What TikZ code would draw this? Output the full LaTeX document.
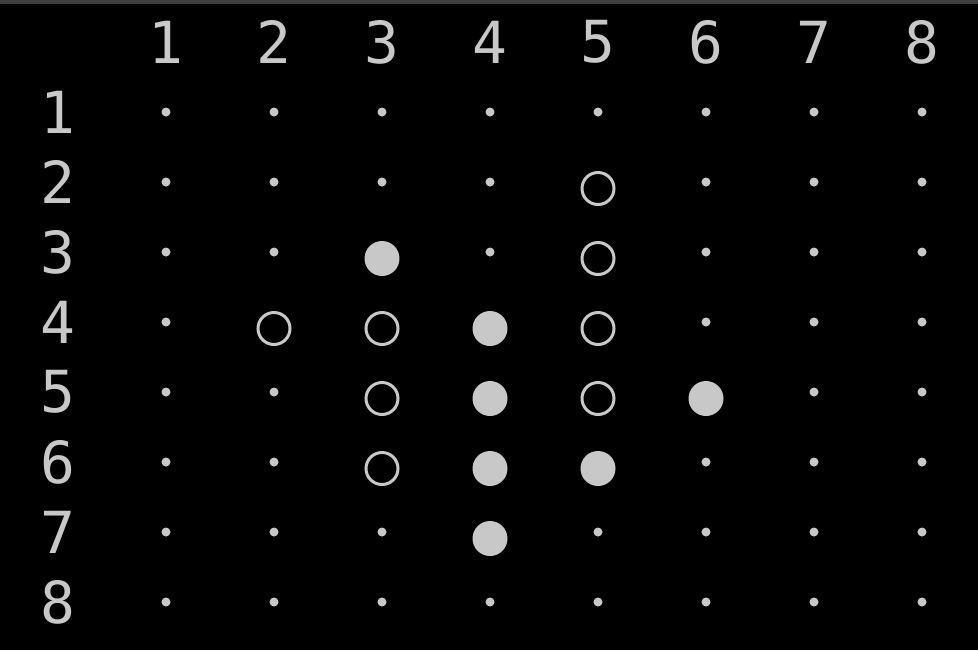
\documentclass[tikz,border=0pt]{standalone}
\usepackage{fontspec}
\setmainfont{DejaVu Sans Mono}
\usepackage{tikz}
\usepackage{xcolor}

\definecolor{term}{HTML}{C8C8C8}
\definecolor{titlebar}{HTML}{3F3F3F}

% board cells that are not plain points
\tikzset{
  c2-5/.style={hole},
  c3-3/.style={stone}, c3-5/.style={hole},
  c4-2/.style={hole}, c4-3/.style={hole}, c4-4/.style={stone}, c4-5/.style={hole},
  c5-3/.style={hole}, c5-4/.style={stone}, c5-5/.style={hole}, c5-6/.style={stone},
  c6-3/.style={hole}, c6-4/.style={stone}, c6-5/.style={stone},
  c7-4/.style={stone}
}

\begin{document}
\begin{tikzpicture}
  [x=0.02cm,y=-0.02cm,
   lbl/.style={text=term,font=\fontsize{33}{34}\selectfont,inner sep=0},
   pt/.style={circle,fill=term,minimum size=0.18cm,inner sep=0},
   stone/.style={fill=term,minimum size=0.7cm,yshift=-0.13cm},
   hole/.style={fill=none,draw=term,line width=0.06cm,minimum size=0.64cm,yshift=-0.13cm}]

  \fill[black] (0,0) rectangle (978,650);
  \fill[titlebar] (0,0) rectangle (978,4);

  \foreach \c in {1,...,8}
    \node[lbl] (col\c) at ({58+108*\c},42) {\c};

  \foreach \r in {1,...,8}
    \node[lbl] (row\r) at (58,{112+70*(\r-1)}) {\r};

  \foreach \r in {1,...,8}
    \foreach \c in {1,...,8}
      \node[pt,c\r-\c/.try] (p\r-\c) at ({58+108*\c},{112+70*(\r-1)}) {};
\end{tikzpicture}
\end{document}
